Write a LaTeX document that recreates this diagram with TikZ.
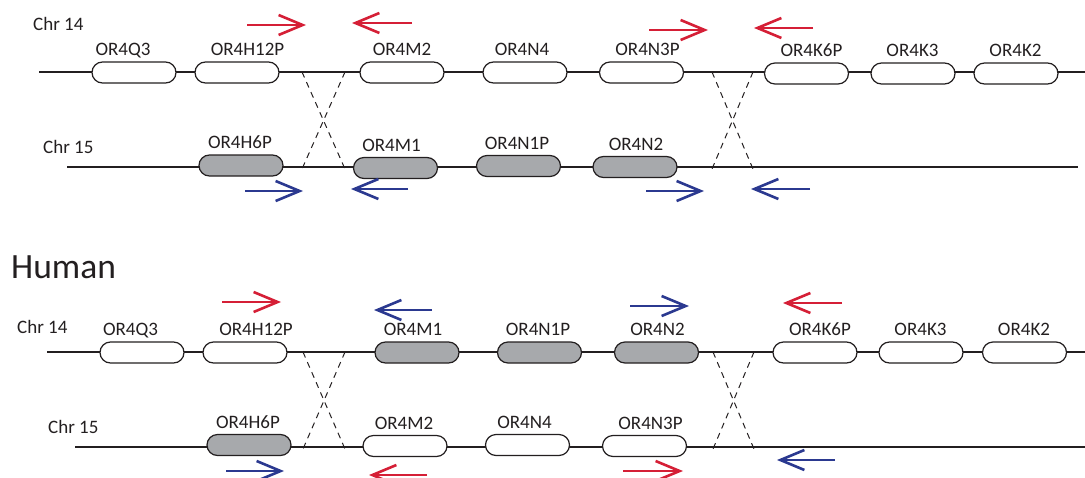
\documentclass[tikz,border=0pt]{standalone}
\usepackage{fontspec}
\setmainfont{Carlito}
\usetikzlibrary{arrows.meta}
\definecolor{ink}{HTML}{231F20}
\definecolor{pgray}{HTML}{A7A9AC}
\definecolor{myred}{HTML}{D51F36}
\definecolor{myblue}{HTML}{2B3990}
\tikzset{
  gene/.style={draw=ink, line width=1.2pt, rounded corners=10.5pt, minimum width=84pt, minimum height=21pt, inner sep=0pt, fill=white},
  pgene/.style={gene, fill=pgray},
  glabel/.style={font=\fontsize{19}{23}\selectfont, text=ink, anchor=base, inner sep=0pt},
  chrlabel/.style={font=\fontsize{19}{23}\selectfont, text=ink, anchor=base west, inner sep=0pt},
  chrom/.style={draw=ink, line width=1.2pt},
  xover/.style={draw=ink, line width=1pt, dash pattern=on 6pt off 5pt},
  redarr/.style={draw=myred, line width=2.6pt, -{Straight Barb[length=24pt,width=20pt]}},
  bluearr/.style={draw=myblue, line width=2.6pt, -{Straight Barb[length=24pt,width=20pt]}}
}
% name, x, y, style, text, label x
\newcommand\mkgene[6]{\node[#4] (#1) at (#2,#3) {}; \node[glabel] (#1-t) at (#6,#3-17) {#5};}
\begin{document}
\begin{tikzpicture}[x=1pt,y=-1pt]
\useasboundingbox (0,0) rectangle (1085,477);
% ---------- top panel ----------
\node[chrlabel] (c14a) at (33,30) {Chr 14};
\node[chrlabel] (c15a) at (43,153) {Chr 15};
\coordinate (a14s) at (39,72); \coordinate (a14e) at (1085,72);
\coordinate (a15s) at (67,167); \coordinate (a15e) at (1078,167);
\draw[chrom] (a14s) -- (a14e);
\draw[chrom] (a15s) -- (a15e);
\coordinate (ax1) at (302,72); \coordinate (ax2) at (345,72);
\coordinate (ax3) at (302,169); \coordinate (ax4) at (345,169);
\coordinate (ax5) at (712,72); \coordinate (ax6) at (753,72);
\coordinate (ax7) at (712,169); \coordinate (ax8) at (753,169);
\draw[xover] (ax1) -- (ax4); \draw[xover] (ax2) -- (ax3);
\draw[xover] (ax5) -- (ax8); \draw[xover] (ax6) -- (ax7);
\mkgene{aq3}{134}{72.5}{gene}{OR4Q3}{123}
\mkgene{ah12}{237}{72.5}{gene}{OR4H12P}{247.5}
\mkgene{am2}{402}{72.5}{gene}{OR4M2}{402}
\mkgene{an4}{525}{72.5}{gene}{OR4N4}{522}
\mkgene{an3}{641.5}{72.5}{gene}{OR4N3P}{647.5}
\mkgene{ak6}{806.5}{73.5}{gene}{OR4K6P}{811.5}
\mkgene{ak3}{913}{73.5}{gene}{OR4K3}{912.5}
\mkgene{ak2}{1016}{73.5}{gene}{OR4K2}{1015.5}
\mkgene{ah6}{241}{165.5}{pgene}{OR4H6P}{240}
\mkgene{am1}{395.5}{168}{pgene}{OR4M1}{391.5}
\mkgene{an1}{518.5}{166}{pgene}{OR4N1P}{517}
\mkgene{an2}{635}{167}{pgene}{OR4N2}{636}
\coordinate (ar1s) at (247,25); \coordinate (ar1e) at (306,25);
\coordinate (ar2s) at (412,23); \coordinate (ar2e) at (352,23);
\coordinate (ar3s) at (649,30); \coordinate (ar3e) at (708,30);
\coordinate (ar4s) at (813,28); \coordinate (ar4e) at (754,28);
\draw[redarr] (ar1s) -- (ar1e);
\draw[redarr] (ar2s) -- (ar2e);
\draw[redarr] (ar3s) -- (ar3e);
\draw[redarr] (ar4s) -- (ar4e);
\coordinate (ab1s) at (245,191); \coordinate (ab1e) at (303,191);
\coordinate (ab2s) at (408,189); \coordinate (ab2e) at (351,189);
\coordinate (ab3s) at (646,191); \coordinate (ab3e) at (704,191);
\coordinate (ab4s) at (810,189); \coordinate (ab4e) at (751,189);
\draw[bluearr] (ab1s) -- (ab1e);
\draw[bluearr] (ab2s) -- (ab2e);
\draw[bluearr] (ab3s) -- (ab3e);
\draw[bluearr] (ab4s) -- (ab4e);
% ---------- Human ----------
\node[font=\fontsize{35.5}{42}\selectfont, text=ink, anchor=base west, inner sep=0pt] (human) at (11,278) {Human};
% ---------- bottom panel ----------
\node[chrlabel] (c14b) at (17,333) {Chr 14};
\node[chrlabel] (c15b) at (48,433) {Chr 15};
\coordinate (b14s) at (47,352); \coordinate (b14e) at (1085,352);
\coordinate (b15s) at (75,447); \coordinate (b15e) at (1085,447);
\draw[chrom] (b14s) -- (b14e);
\draw[chrom] (b15s) -- (b15e);
\coordinate (bx1) at (303,352); \coordinate (bx2) at (345,352);
\coordinate (bx3) at (303,449); \coordinate (bx4) at (345,449);
\coordinate (bx5) at (713,352); \coordinate (bx6) at (754,352);
\coordinate (bx7) at (713,449); \coordinate (bx8) at (754,449);
\draw[xover] (bx1) -- (bx4); \draw[xover] (bx2) -- (bx3);
\draw[xover] (bx5) -- (bx8); \draw[xover] (bx6) -- (bx7);
\mkgene{bq3}{142}{352.5}{gene}{OR4Q3}{130.5}
\mkgene{bh12}{245}{352.5}{gene}{OR4H12P}{256}
\mkgene{bm1}{417}{352.5}{pgene}{OR4M1}{413}
\mkgene{bn1}{539.5}{352.5}{pgene}{OR4N1P}{538}
\mkgene{bn2}{656.5}{352.5}{pgene}{OR4N2}{657.5}
\mkgene{bk6}{815}{352.5}{gene}{OR4K6P}{820}
\mkgene{bk3}{921}{352.5}{gene}{OR4K3}{920.5}
\mkgene{bk2}{1024.5}{352.5}{gene}{OR4K2}{1024}
\mkgene{bh6}{249}{445}{pgene}{OR4H6P}{248}
\mkgene{bm2}{405}{446}{gene}{OR4M2}{404}
\mkgene{bn4}{527.5}{445}{gene}{OR4N4}{524.5}
\mkgene{bn3}{644.5}{446}{gene}{OR4N3P}{650.5}
\coordinate (br1s) at (222,302); \coordinate (br1e) at (281,302);
\coordinate (bb2s) at (432,310); \coordinate (bb2e) at (374,310);
\coordinate (bb3s) at (630,306); \coordinate (bb3e) at (689,306);
\coordinate (br4s) at (842,303); \coordinate (br4e) at (783,303);
\draw[redarr] (br1s) -- (br1e);
\draw[bluearr] (bb2s) -- (bb2e);
\draw[bluearr] (bb3s) -- (bb3e);
\draw[redarr] (br4s) -- (br4e);
\coordinate (bb5s) at (226,471); \coordinate (bb5e) at (284,471);
\coordinate (br6s) at (427,475); \coordinate (br6e) at (369,475);
\coordinate (br7s) at (623,471); \coordinate (br7e) at (683,471);
\coordinate (bb8s) at (835,460); \coordinate (bb8e) at (777,460);
\draw[bluearr] (bb5s) -- (bb5e);
\draw[redarr] (br6s) -- (br6e);
\draw[redarr] (br7s) -- (br7e);
\draw[bluearr] (bb8s) -- (bb8e);
\end{tikzpicture}
\end{document}
